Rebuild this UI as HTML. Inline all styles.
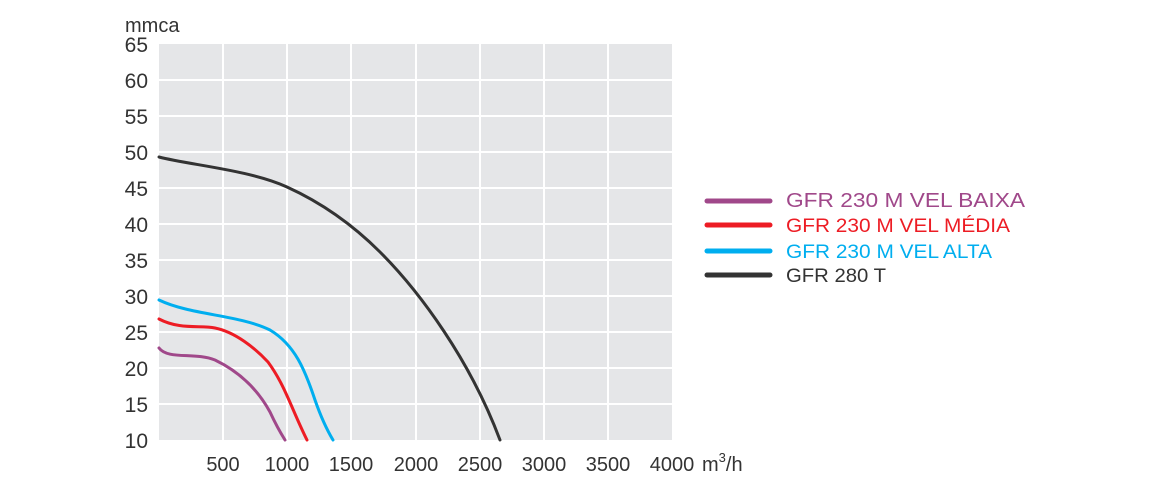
<!DOCTYPE html>
<html><head><meta charset="utf-8"><style>
body{margin:0;background:#fff;}
svg text{font-family:"Liberation Sans",sans-serif;}
</style></head><body>
<svg width="1150" height="491" viewBox="0 0 1150 491" xmlns="http://www.w3.org/2000/svg">
<rect x="159" y="44" width="513" height="396" fill="#e5e6e8"/>
<g stroke="#fff" stroke-width="2">
<line x1="223" y1="44" x2="223" y2="440"/><line x1="287" y1="44" x2="287" y2="440"/>
<line x1="351" y1="44" x2="351" y2="440"/><line x1="416" y1="44" x2="416" y2="440"/>
<line x1="480" y1="44" x2="480" y2="440"/><line x1="544" y1="44" x2="544" y2="440"/>
<line x1="608" y1="44" x2="608" y2="440"/>
<line x1="159" y1="80" x2="672" y2="80"/><line x1="159" y1="116" x2="672" y2="116"/>
<line x1="159" y1="152" x2="672" y2="152"/><line x1="159" y1="188" x2="672" y2="188"/>
<line x1="159" y1="224" x2="672" y2="224"/><line x1="159" y1="260" x2="672" y2="260"/>
<line x1="159" y1="296" x2="672" y2="296"/><line x1="159" y1="332" x2="672" y2="332"/>
<line x1="159" y1="368" x2="672" y2="368"/><line x1="159" y1="404" x2="672" y2="404"/>
</g>
<g fill="none" stroke-width="3" stroke-linecap="round">
<path d="M159,157 C190,165 250,170 287,187 C320,202 350,222 380,252 C420,292 470,360 500,440" stroke="#333"/>
<path d="M159,300 C190,315 240,315 270,330 C295,345 305,370 315,400 C322,420 327,430 333,440" stroke="#00aeef"/>
<path d="M159,319 C180,330 200,325 215,328 C235,332 255,348 268,362 C285,385 292,410 307,440" stroke="#ed1c24"/>
<path d="M159,348 C168,360 195,352 215,360 C240,372 258,390 270,412 C276,425 280,432 285,440" stroke="#a0488a"/>
</g>
<g font-size="21" fill="#333" text-anchor="end">
<text x="148" y="52">65</text><text x="148" y="88">60</text><text x="148" y="124">55</text>
<text x="148" y="160">50</text><text x="148" y="196">45</text><text x="148" y="232">40</text>
<text x="148" y="268">35</text><text x="148" y="304">30</text><text x="148" y="340">25</text>
<text x="148" y="376">20</text><text x="148" y="412">15</text><text x="148" y="448">10</text>
</g>
<text x="125" y="32" font-size="20" fill="#333">mmca</text>
<g font-size="20" fill="#333" text-anchor="middle">
<text x="223" y="471">500</text><text x="287" y="471">1000</text><text x="351" y="471">1500</text>
<text x="416" y="471">2000</text><text x="480" y="471">2500</text><text x="544" y="471">3000</text>
<text x="608" y="471">3500</text><text x="672" y="471">4000</text>
</g>
<text x="702" y="471" font-size="20" fill="#333">m<tspan font-size="13" dy="-9">3</tspan><tspan dy="9">/h</tspan></text>
<g stroke-width="5" stroke-linecap="round">
<line x1="707" y1="201" x2="770" y2="201" stroke="#a0488a"/>
<line x1="707" y1="225" x2="770" y2="225" stroke="#ed1c24"/>
<line x1="707" y1="251" x2="770" y2="251" stroke="#00aeef"/>
<line x1="707" y1="275" x2="770" y2="275" stroke="#333"/>
</g>
<text x="786" y="207" font-size="20" fill="#a0488a" textLength="239" lengthAdjust="spacingAndGlyphs">GFR 230 M VEL BAIXA</text>
<text x="786" y="232" font-size="19" fill="#ed1c24" textLength="224" lengthAdjust="spacingAndGlyphs">GFR 230 M VEL MÉDIA</text>
<text x="786" y="258" font-size="19" fill="#00aeef" textLength="206" lengthAdjust="spacingAndGlyphs">GFR 230 M VEL ALTA</text>
<text x="786" y="282" font-size="19" fill="#333" textLength="100" lengthAdjust="spacingAndGlyphs">GFR 280 T</text>
</svg>
</body></html>
